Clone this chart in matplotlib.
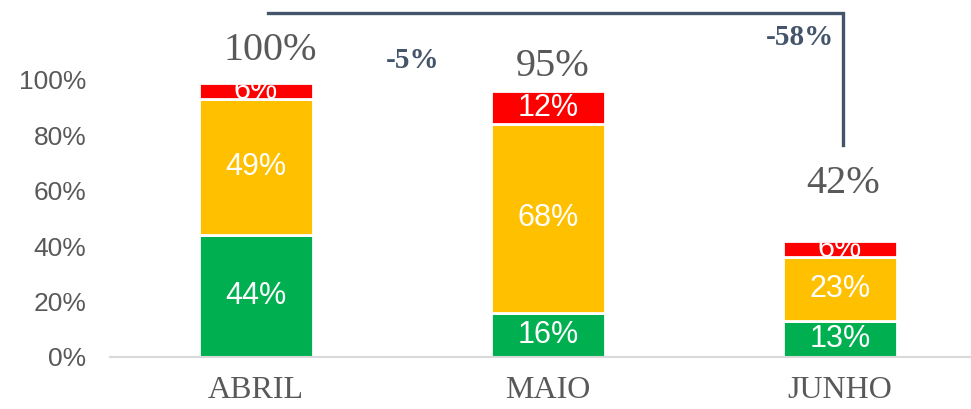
import numpy as np
import matplotlib.pyplot as plt

meses = ['ABRIL', 'MAIO', 'JUNHO']
verde = np.array([44, 16, 13])
amarelo = np.array([49, 68, 23])
vermelho = np.array([6, 12, 6])
totais = ['100%', '95%', '42%']
variacoes = ['-5%', '-58%']

cores = ['#00B050', '#FFC000', '#FF0000']

fig = plt.figure(figsize=(9.71, 4.09), dpi=100)
ax = fig.add_axes([110 / 971, 1 - 357 / 409, 860 / 971, 354.6 / 409])

x = np.arange(len(meses))
w = 0.39
base = np.zeros(len(meses))
for vals, cor in zip([verde, amarelo, vermelho], cores):
    ax.bar(x, vals / 100, w, bottom=base, color=cor, edgecolor='white', linewidth=2)
    for xi, b, v in zip(x, base, vals):
        ax.text(xi, b + v / 200, f'{v}%', ha='center', va='center',
                color='white', fontsize=22, family='Liberation Sans')
    base = base + vals / 100

# rótulos de total acima das barras
pos_total = [(0.048, 1.108), (1.017, 1.047), (2.01, 0.628)]
for (px, py), t in zip(pos_total, totais):
    ax.text(px, py, t, ha='center', va='center', color='#595959',
            fontsize=29, family='Liberation Serif')

# linha de comparação
cor_linha = '#44546A'
ax.plot([0.041, 2.01, 2.01], [1.242, 1.242, 0.765], color=cor_linha, lw=2.4,
        solid_joinstyle='miter', clip_on=False)
ax.text(0.538, 1.072, variacoes[0], ha='center', va='center', color=cor_linha,
        fontsize=21, fontweight='bold', family='Liberation Serif')
ax.text(1.863, 1.152, variacoes[1], ha='center', va='center', color=cor_linha,
        fontsize=21, fontweight='bold', family='Liberation Serif')

ax.set_xlim(-0.5, 2.445)
ax.set_ylim(0, 1.28)
ax.set_yticks(np.arange(0, 1.01, 0.2))
ax.set_yticklabels([f'{int(round(v * 100))}%' for v in np.arange(0, 1.01, 0.2)],
                   fontsize=19, color='#595959', family='Liberation Sans')
ax.set_xticks(x)
ax.set_xticklabels(meses, fontsize=23, color='#595959', family='Liberation Serif')
ax.tick_params(axis='both', length=0)
ax.tick_params(axis='x', pad=14)
ax.tick_params(axis='y', pad=17)
for s in ['top', 'right', 'left']:
    ax.spines[s].set_visible(False)
ax.spines['bottom'].set_color('#D9D9D9')
ax.spines['bottom'].set_linewidth(1.5)

fig.savefig('out.png', dpi=100)
